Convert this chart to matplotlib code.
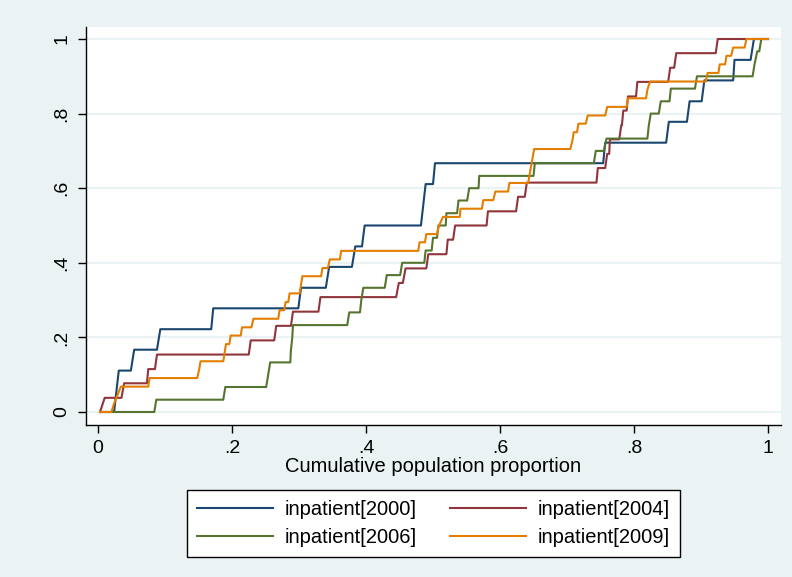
import matplotlib.pyplot as plt

# cumulative share curves, one per survey year
x_2000 = [0.003, 0.024, 0.031, 0.049, 0.054, 0.088, 0.093, 0.169, 0.172, 0.299,
          0.303, 0.340, 0.345, 0.379, 0.384, 0.394, 0.398, 0.482, 0.489, 0.500,
          0.503, 0.754, 0.757, 0.848, 0.852, 0.879, 0.883, 0.901, 0.905, 0.948,
          0.950, 0.974, 0.979, 1.000]
y_2000 = [0, 0, 0.111, 0.111, 0.167, 0.167, 0.222, 0.222, 0.278, 0.278,
          0.333, 0.333, 0.389, 0.389, 0.444, 0.444, 0.500, 0.500, 0.611, 0.611,
          0.667, 0.667, 0.722, 0.722, 0.778, 0.778, 0.833, 0.833, 0.889, 0.889,
          0.944, 0.944, 1.000, 1.000]

x_2004 = [0.003, 0.010, 0.035, 0.039, 0.073, 0.075, 0.085, 0.088, 0.225, 0.228,
          0.263, 0.266, 0.288, 0.291, 0.329, 0.332, 0.445, 0.449, 0.455, 0.459,
          0.490, 0.493, 0.520, 0.522, 0.530, 0.533, 0.580, 0.582, 0.624, 0.627,
          0.637, 0.640, 0.744, 0.746, 0.757, 0.760, 0.763, 0.764, 0.778, 0.781,
          0.782, 0.784, 0.789, 0.791, 0.803, 0.805, 0.851, 0.854, 0.860, 0.863,
          0.922, 0.925, 1.000]
y_2004 = [0, 0.038, 0.038, 0.077, 0.077, 0.115, 0.115, 0.154, 0.154, 0.192,
          0.192, 0.231, 0.231, 0.269, 0.269, 0.308, 0.308, 0.346, 0.346, 0.385,
          0.385, 0.423, 0.423, 0.462, 0.462, 0.500, 0.500, 0.538, 0.538, 0.577,
          0.577, 0.615, 0.615, 0.654, 0.654, 0.692, 0.692, 0.731, 0.731, 0.769,
          0.769, 0.808, 0.808, 0.846, 0.846, 0.885, 0.885, 0.923, 0.923, 0.962,
          0.962, 1.000, 1.000]

x_2006 = [0.003, 0.084, 0.087, 0.187, 0.190, 0.251, 0.254, 0.257, 0.287, 0.288,
          0.290, 0.291, 0.372, 0.375, 0.391, 0.393, 0.396, 0.428, 0.431, 0.451,
          0.454, 0.487, 0.489, 0.498, 0.500, 0.506, 0.508, 0.519, 0.520, 0.536,
          0.538, 0.551, 0.554, 0.568, 0.569, 0.650, 0.652, 0.740, 0.743, 0.755,
          0.759, 0.820, 0.822, 0.825, 0.837, 0.840, 0.853, 0.855, 0.891, 0.894,
          0.977, 0.980, 0.984, 0.987, 0.990, 1.000]
y_2006 = [0, 0, 0.033, 0.033, 0.067, 0.067, 0.100, 0.133, 0.133, 0.167,
          0.200, 0.233, 0.233, 0.267, 0.267, 0.300, 0.333, 0.333, 0.367, 0.367,
          0.400, 0.400, 0.433, 0.433, 0.467, 0.467, 0.500, 0.500, 0.533, 0.533,
          0.567, 0.567, 0.600, 0.600, 0.633, 0.633, 0.667, 0.667, 0.700, 0.700,
          0.733, 0.733, 0.767, 0.800, 0.800, 0.833, 0.833, 0.867, 0.867, 0.900,
          0.900, 0.933, 0.967, 0.967, 1.000, 1.000]

x_2009 = [0.003, 0.020, 0.024, 0.029, 0.034, 0.075, 0.077, 0.148, 0.151, 0.153,
          0.187, 0.189, 0.191, 0.196, 0.198, 0.213, 0.215, 0.229, 0.232, 0.269,
          0.271, 0.278, 0.280, 0.284, 0.286, 0.301, 0.305, 0.333, 0.335, 0.343,
          0.346, 0.361, 0.363, 0.478, 0.480, 0.488, 0.490, 0.506, 0.509, 0.515,
          0.540, 0.541, 0.573, 0.575, 0.590, 0.593, 0.612, 0.614, 0.642, 0.651,
          0.705, 0.708, 0.710, 0.715, 0.717, 0.728, 0.731, 0.757, 0.760, 0.789,
          0.791, 0.818, 0.820, 0.824, 0.907, 0.910, 0.926, 0.928, 0.936, 0.938,
          0.945, 0.948, 0.965, 0.968, 1.000]
y_2009 = [0, 0, 0.023, 0.045, 0.068, 0.068, 0.091, 0.091, 0.114, 0.136,
          0.136, 0.159, 0.182, 0.182, 0.205, 0.205, 0.227, 0.227, 0.250, 0.250,
          0.273, 0.273, 0.295, 0.295, 0.318, 0.318, 0.364, 0.364, 0.386, 0.386,
          0.409, 0.409, 0.432, 0.432, 0.455, 0.455, 0.477, 0.477, 0.500, 0.523,
          0.523, 0.545, 0.545, 0.568, 0.568, 0.591, 0.591, 0.614, 0.614, 0.705,
          0.705, 0.727, 0.750, 0.750, 0.773, 0.773, 0.795, 0.795, 0.818, 0.818,
          0.841, 0.841, 0.864, 0.886, 0.886, 0.909, 0.909, 0.932, 0.932, 0.955,
          0.955, 0.977, 0.977, 1.000, 1.000]

labels = ["inpatient[2000]", "inpatient[2004]", "inpatient[2006]", "inpatient[2009]"]
colors = ["#1a476f", "#90353b", "#55752f", "#e37e00"]
xticks = [0, 0.2, 0.4, 0.6, 0.8, 1]
xtick_labels = ["0", ".2", ".4", ".6", ".8", "1"]

bg = "#eaf2f3"
plt.rcParams["font.family"] = ["Liberation Sans", "DejaVu Sans"]

fig = plt.figure(figsize=(7.92, 5.77), dpi=100, facecolor=bg)
ax = fig.add_axes([0.1086, 0.2634, 0.8775, 0.6897])
ax.set_facecolor("white")

series = [(x_2000, y_2000), (x_2004, y_2004), (x_2006, y_2006), (x_2009, y_2009)]
lines = []
for (xs, ys), lab, c in zip(series, labels, colors):
    ln, = ax.plot(xs, ys, color=c, lw=1.5, label=lab)
    lines.append(ln)

ax.set_xlim(-0.0179, 1.0194)
ax.set_ylim(-0.0349, 1.032)
ax.set_xticks(xticks)
ax.set_xticklabels(xtick_labels, fontsize=14)
ax.set_yticks(xticks)
ax.set_yticklabels(xtick_labels, fontsize=14, rotation=90, va="center")
ax.grid(axis="y", color=bg, lw=1.6)
ax.set_axisbelow(True)
ax.tick_params(direction="out", length=6, width=1, colors="black", pad=5)
for side in ["top", "right"]:
    ax.spines[side].set_visible(False)
ax.spines["left"].set_linewidth(1)
ax.spines["bottom"].set_linewidth(1)

ax.set_xlabel("Cumulative population proportion", fontsize=14.5, labelpad=0)

# stata fills the legend row by row: reorder for matplotlib's column filling
order = [0, 2, 1, 3]
fig.legend([lines[i] for i in order], [labels[i] for i in order],
           loc="center", bbox_to_anchor=(0.547, 0.0927), ncol=2, fontsize=14.5,
           frameon=True, fancybox=False, edgecolor="black", framealpha=1,
           handlelength=3.8, columnspacing=1.65, handletextpad=0.55,
           borderpad=0.5, labelspacing=0.42)

fig.savefig("out.png", dpi=100, facecolor=bg)
